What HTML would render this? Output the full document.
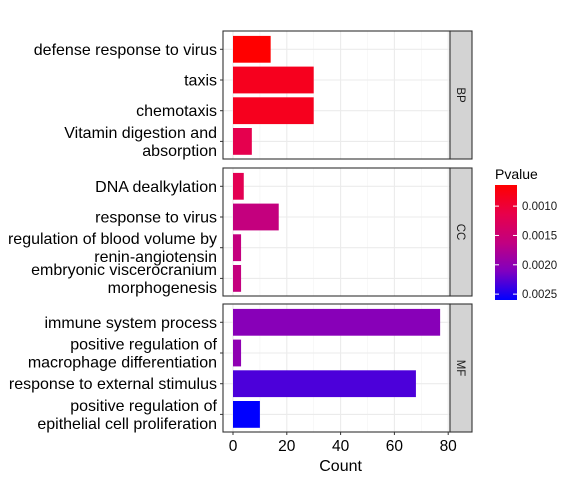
<!DOCTYPE html>
<html><head><meta charset="utf-8"><style>body{margin:0;background:#fff}svg{display:block;font-family:"Liberation Sans",Arial,sans-serif}</style></head>
<body>
<svg id="c" width="576" height="480" xmlns="http://www.w3.org/2000/svg">
<defs><linearGradient id="g" x1="0" y1="0" x2="0" y2="1">
<stop offset="0" stop-color="#FF0000"/><stop offset="0.25" stop-color="#E8004A"/><stop offset="0.5" stop-color="#C20080"/><stop offset="0.75" stop-color="#8000C0"/><stop offset="1" stop-color="#0000FF"/></linearGradient></defs>
</svg>
<script>
const panels = ["BP","CC","MF"];
const terms = [
 ["defense response to virus","taxis","chemotaxis","Vitamin digestion and\nabsorption"],
 ["DNA dealkylation","response to virus","regulation of blood volume by\nrenin-angiotensin","embryonic viscerocranium\nmorphogenesis"],
 ["immune system process","positive regulation of\nmacrophage differentiation","response to external stimulus","positive regulation of\nepithelial cell proliferation"]
];
const counts = [[14,30,30,7],[4,17,3,3],[77,3,68,10]];
const pvalues = [[0.00064,0.00084,0.00084,0.00117],[0.0012,0.0016,0.0016,0.0016],[0.00205,0.0020,0.00231,0.0026]];
const xTicks = [0,20,40,60,80];
const legendTicks = [0.0010,0.0015,0.0020,0.0025];
const NS="http://www.w3.org/2000/svg", svg=document.getElementById('c');
function el(t,a,p){const e=document.createElementNS(NS,t);for(const k in a)e.setAttribute(k,a[k]);(p||svg).appendChild(e);return e;}
const x = v => 233 + v*2.69;
const pTop=[31,168,304], pH=128, pL=223, pR=450;
const pmin=0.00064, pmax=0.0026;
const stops=[[255,0,0],[232,0,74],[194,0,128],[128,0,192],[0,0,255]];
function col(p){let t=Math.max(0,Math.min(1,(p-pmin)/(pmax-pmin)))*4;const i=Math.min(3,Math.floor(t)),f=t-i;const c=stops[i].map((v,k)=>Math.round(v+(stops[i+1][k]-v)*f));return `rgb(${c})`;}
panels.forEach((pn,pi)=>{
 const top=pTop[pi];
 const g=el('g',{});
 
 
 el('rect',{x:pL,y:top,width:pR-pL,height:pH,fill:'#fff'},g);
 [10,30,50,70].forEach(v=>el('line',{x1:x(v),x2:x(v),y1:top,y2:top+pH,stroke:'#f3f3f3','stroke-width':0.6},g));
 xTicks.forEach(v=>el('line',{x1:x(v),x2:x(v),y1:top,y2:top+pH,stroke:'#ebebeb','stroke-width':1.1},g));
 const rowY=i=>top+18.3+i*30.7;
 terms[pi].forEach((t,i)=>el('line',{x1:pL,x2:pR,y1:rowY(i),y2:rowY(i),stroke:'#ebebeb','stroke-width':1.1},g));
 counts[pi].forEach((v,i)=>{
  const r=el('rect',{x:x(0),y:rowY(i)-13.4,width:x(v)-x(0),height:26.8,fill:col(pvalues[pi][i])},g);
  
  
  el('line',{x1:pL-3,x2:pL,y1:rowY(i),y2:rowY(i),stroke:'#333','stroke-width':1},g);
  const lines=terms[pi][i].split('\n');
  const tx=el('text',{x:pL-6,'text-anchor':'end','font-size':16,fill:'#000'},g);
  
  
  lines.forEach((l,k)=>{const ts=el('tspan',{x:pL-6,y:rowY(i)+5.5+(k-(lines.length-1)/2)*18},tx);ts.textContent=l;});
 });
 el('rect',{x:pL,y:top,width:pR-pL,height:pH,fill:'none',stroke:'#333','stroke-width':1.1},g);
 el('rect',{x:pR,y:top,width:22,height:pH,fill:'#d3d3d3',stroke:'#333','stroke-width':1.1},g);
 const st=el('text',{x:0,y:0,'font-size':11.5,fill:'#1a1a1a','text-anchor':'middle',transform:`translate(${pR+7},${top+pH/2}) rotate(90)`},g);
 
 
 st.textContent=pn;
});
xTicks.forEach(v=>{
 el('line',{x1:x(v),x2:x(v),y1:432,y2:435,stroke:'#333'});
 const t=el('text',{x:x(v),y:451,'text-anchor':'middle','font-size':15.5,fill:'#000'});
 
 
 t.textContent=v;
});
const xt=el('text',{x:x(40),y:471,'text-anchor':'middle','font-size':16,fill:'#000'});


xt.textContent='Count';
const lt=el('text',{x:495,y:179,'font-size':14,fill:'#000'});


lt.textContent='Pvalue';
const cb=el('rect',{x:495,y:185,width:22,height:115,fill:'url(#g)'});


const ly=p=>185+(p-pmin)/(pmax-pmin)*115;
legendTicks.forEach(p=>{
 el('line',{x1:495,x2:499,y1:ly(p),y2:ly(p),stroke:'#fff'});
 el('line',{x1:513,x2:517,y1:ly(p),y2:ly(p),stroke:'#fff'});
 const t=el('text',{x:522,y:ly(p)+4,'font-size':11.5,fill:'#1a1a1a'});
 
 
 t.textContent=p.toFixed(4);
});
</script>
</body></html>
